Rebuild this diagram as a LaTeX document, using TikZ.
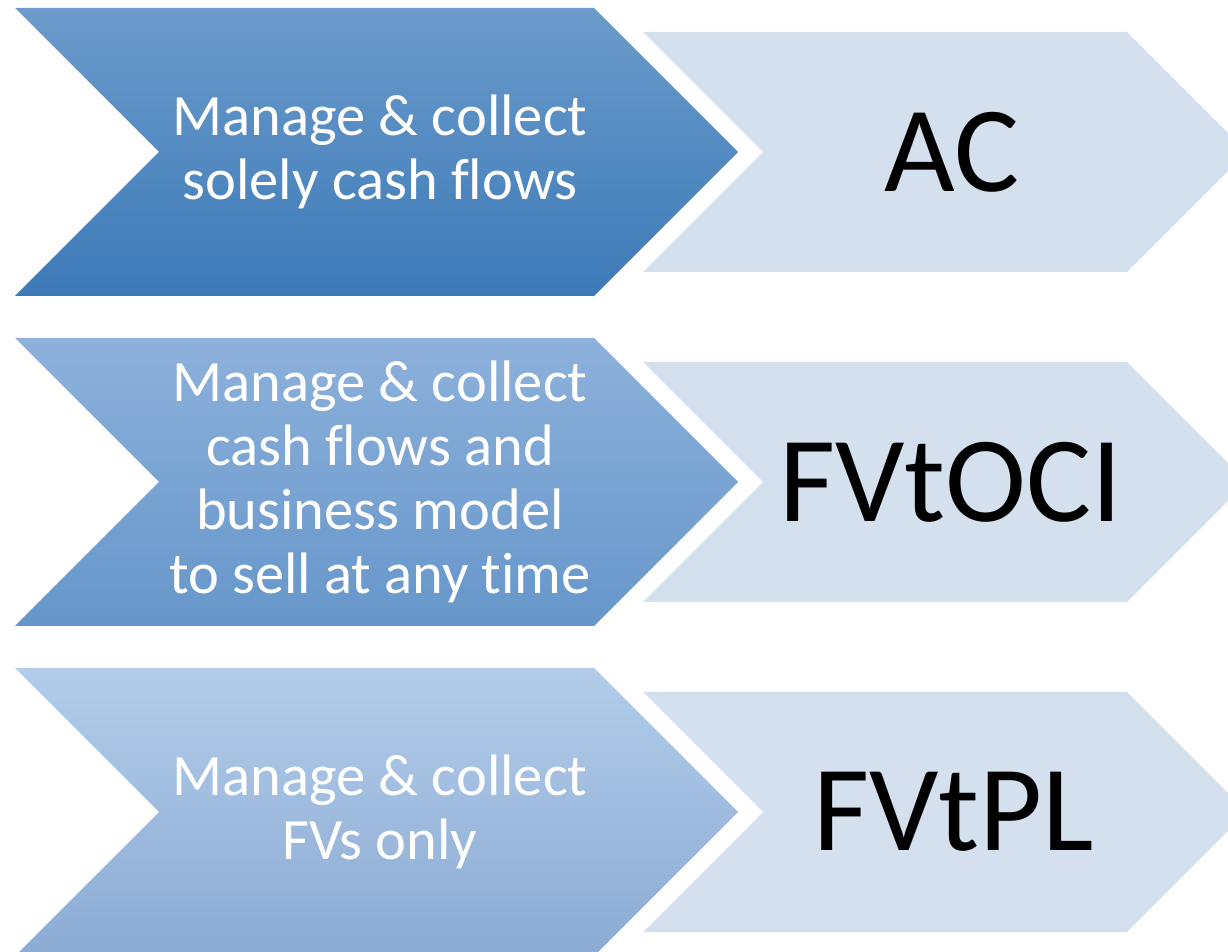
\documentclass[tikz,border=0pt]{standalone}
\usepackage{fontspec}
\setmainfont[Ligatures=NoCommon]{Carlito}
\usetikzlibrary{positioning}
\usepackage{xcolor}
\definecolor{oneTop}{HTML}{6B9BCB}
\definecolor{oneBot}{HTML}{3D7AB8}
\definecolor{twoTop}{HTML}{8DB1DB}
\definecolor{twoBot}{HTML}{6696CA}
\definecolor{threeTop}{HTML}{B3CCEA}
\definecolor{threeBot}{HTML}{8BABD3}
\definecolor{paleBlue}{HTML}{D5E0EE}
\begin{document}
\begin{tikzpicture}[x=0.02cm,y=-0.02cm]
      \tikzstyle{every node}=[align=center,inner sep=0pt]
      \tikzstyle{basis}=[text=white,font=\fontsize{33.3}{36.4}\selectfont]
      \tikzstyle{result}=[text=black,font=\fontsize{69.5}{80}\selectfont]
      \tikzstyle{pale}=[fill=paleBlue]
      \useasboundingbox (0,0) rectangle (1228,952);
      \clip (0,0) rectangle (1228,952);

      % row 1
      \shade[top color=oneTop,bottom color=oneBot] (15,8) -- (594,8) -- (738,152) -- (594,296) -- (15,296) -- (159,152) -- cycle;
      \fill[pale] (643,32) -- (1127,32) -- (1247,152) -- (1127,272) -- (643,272) -- (763,152) -- cycle;
      \node[basis] (b1) at (380,152) {Manage \& collect\\solely cash flows};
      \node[result] (r1) at (952,152) {AC};

      % row 2
      \shade[top color=twoTop,bottom color=twoBot] (15,338) -- (594,338) -- (738,482) -- (594,626) -- (15,626) -- (159,482) -- cycle;
      \fill[pale] (643,362) -- (1127,362) -- (1247,482) -- (1127,602) -- (643,602) -- (763,482) -- cycle;
      \node[basis] (b2) at (380,482) {Manage \& collect\\cash flows and\\business model\\to sell at any time};
      \node[result] (r2) at (951,482) {FVtOCI};

      % row 3
      \shade[top color=threeTop,bottom color=threeBot] (15,668) -- (594,668) -- (738,812) -- (594,956) -- (15,956) -- (159,812) -- cycle;
      \fill[pale] (643,692) -- (1127,692) -- (1247,812) -- (1127,932) -- (643,932) -- (763,812) -- cycle;
      \node[basis] (b3) at (380,812) {Manage \& collect\\FVs only};
      \node[result] (r3) at (954,812) {FVtPL};
\end{tikzpicture}
\end{document}
